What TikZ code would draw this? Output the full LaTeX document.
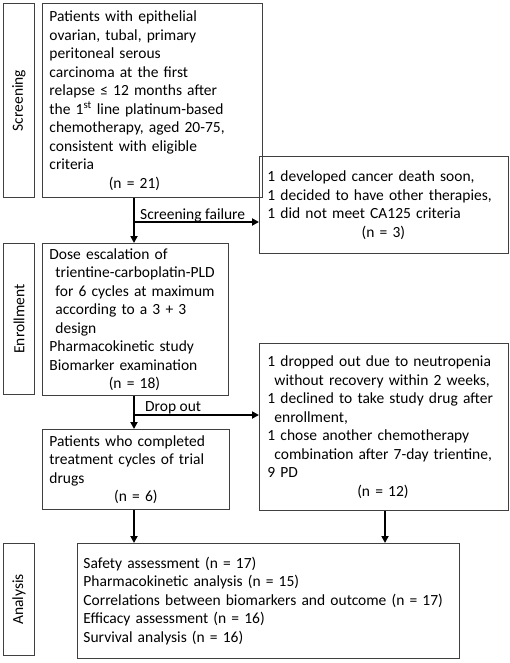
\documentclass[tikz,border=0pt]{standalone}
\usepackage{fontspec}
\setmainfont{Carlito}
\usetikzlibrary{arrows.meta}
\begin{document}
\begin{tikzpicture}[x=1pt,y=-1pt,
  box/.style={draw=black!75, line width=0.9pt, anchor=north west, inner xsep=7pt, inner ysep=0pt,
    align=left, font=\fontsize{15.5}{18.5}\selectfont},
  lab/.style={draw=black!75, line width=0.9pt, anchor=north west, inner sep=0pt,
    minimum width=31pt, font=\fontsize{15.5}{18}\selectfont},
  arr/.style={line width=1.8pt, -{Triangle[length=7pt,width=7pt]}},
  flab/.style={anchor=base west, inner sep=0pt, font=\fontsize{15.5}{18}\selectfont}]
\useasboundingbox (0,0) rectangle (510,663);

% phase labels
\node[lab, minimum height=194pt] (lscr) at (3,3) {\rotatebox{90}{Screening}};
\node[lab, minimum height=151pt] (lenr) at (3,243) {\rotatebox{90}{Enrollment}};
\node[lab, minimum height=112pt] (lana) at (3,543) {\rotatebox{90}{Analysis}};

% boxes
\node[box, minimum width=220pt, minimum height=194pt, text width=206pt] (scr) at (42,3) {%
Patients with epithelial\\
ovarian, tubal, primary\\
peritoneal serous\\
carcinoma at the first\\
relapse ≤ 12 months after\\
the 1\textsuperscript{st} line platinum-based\\
chemotherapy, aged 20-75,\\
consistent with eligible\\
criteria\\
\makebox[170pt]{(n = 21)}};

\node[box, minimum width=249pt, minimum height=97pt, text width=233pt, inner xsep=8pt] (fail) at (259,156) {%
1 developed cancer death soon,\\
1 decided to have other therapies,\\
1 did not meet CA125 criteria\\
\makebox[232pt]{(n = 3)}};

\node[box, minimum width=186pt, minimum height=152pt, text width=172pt] (enr) at (42,243) {%
Dose escalation of\\
\hspace*{6pt}trientine-carboplatin-PLD\\
\hspace*{6pt}for 6 cycles at maximum\\
\hspace*{6pt}according to a 3 + 3\\
\hspace*{6pt}design\\
Pharmacokinetic study\\
Biomarker examination\\
\makebox[170pt]{(n = 18)}};

\node[box, minimum width=249pt, minimum height=167pt, text width=233pt, inner xsep=8pt] (drop) at (259,343) {%
1 dropped out due to neutropenia\\
\hspace*{7pt}without recovery within 2 weeks,\\
1 declined to take study drug after\\
\hspace*{7pt}enrollment,\\
1 chose another chemotherapy\\
\hspace*{7pt}combination after 7-day trientine,\\
9 PD\\
\makebox[231pt]{(n = 12)}};

\node[box, minimum width=187pt, minimum height=80pt, text width=173pt] (comp) at (42,429) {%
Patients who completed\\
treatment cycles of trial\\
drugs\\
\makebox[173pt]{(n = 6)}};

\node[box, minimum width=382pt, minimum height=115pt, text width=370pt, inner xsep=6pt] (ana) at (77,543) {%
Safety assessment (n = 17)\\
Pharmacokinetic analysis (n = 15)\\
Correlations between biomarkers and outcome (n = 17)\\
Efficacy assessment (n = 16)\\
Survival analysis (n = 16)};

% connector coordinates
\coordinate (cx) at (134,0);
\coordinate (rx) at (385,0);
\coordinate (s1) at (134,222);
\coordinate (s2) at (134,415);

% connectors
\draw[arr] (scr.south -| cx) -- (enr.north -| cx);
\draw[arr] (s1) -- (fail.west |- s1);
\draw[arr] (enr.south -| cx) -- (comp.north -| cx);
\draw[arr] (s2) -- (drop.west |- s2);
\draw[arr] (comp.south -| cx) -- (ana.north -| cx);
\draw[arr] (drop.south -| rx) -- (ana.north -| rx);

% connector labels
\node[flab] (lf) at (140,219) {Screening failure};
\node[flab] (ld) at (145,411) {Drop out};
\end{tikzpicture}
\end{document}
